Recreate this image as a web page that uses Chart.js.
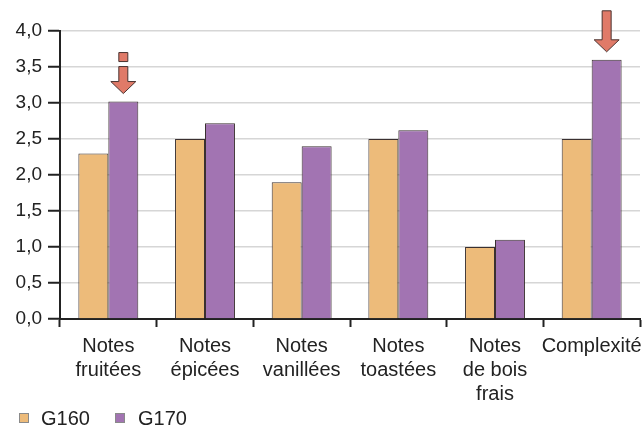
<!DOCTYPE html>
<html>
<head>
<meta charset="utf-8">
<script src="https://cdn.jsdelivr.net/npm/chart.js@4.4.1/dist/chart.umd.min.js"></script>
<style>
  html, body { margin: 0; padding: 0; background: #ffffff; }
  #wrap { position: relative; width: 644px; height: 429px; }
</style>
</head>
<body>
<div id="wrap"><canvas id="c" width="644" height="429"></canvas></div>
<script>
// Sensory profile scores for the two barrel types
const categories = [
  ['Notes', 'fruitées'],
  ['Notes', 'épicées'],
  ['Notes', 'vanillées'],
  ['Notes', 'toastées'],
  ['Notes', 'de bois', 'frais'],
  ['Complexité']
];
const seriesNames = ['G160', 'G170'];
const g160 = [2.3, 2.5, 1.9, 2.5, 1.0, 2.5];
const g170 = [3.02, 2.72, 2.4, 2.62, 1.1, 3.6];
const yTicks = [0, 0.5, 1, 1.5, 2, 2.5, 3, 3.5, 4];
// categories flagged with an arrow above the G170 bar (true = dashed shaft)
const flagged = [0, 5];
const flaggedDashed = [true, false];

const colors = ['#EDBB7A', '#A274B2'];
const FONT = '"Liberation Sans", Arial, Helvetica, sans-serif';

const arrowPlugin = {
  id: 'arrows',
  afterDatasetsDraw(chart) {
    const ctx = chart.ctx;
    const meta = chart.getDatasetMeta(1);
    flagged.forEach((idx, k) => {
      const bar = meta.data[idx];
      const cx = bar.x;
      const tip = bar.y - 8;
      const headH = 12, headW = 12.5, shaftW = 4.5;
      const shaftTop = tip - 41;
      ctx.save();
      ctx.fillStyle = '#E07A68';
      ctx.strokeStyle = '#4a3330';
      ctx.lineWidth = 1;
      ctx.lineJoin = 'miter';
      let sTop = shaftTop;
      if (flaggedDashed[k]) {
        // short detached block on top, then a shorter shaft
        ctx.beginPath();
        ctx.rect(cx - shaftW, shaftTop, shaftW * 2, 9);
        ctx.fill(); ctx.stroke();
        sTop = shaftTop + 14;
      }
      ctx.beginPath();
      ctx.moveTo(cx - shaftW, sTop);
      ctx.lineTo(cx + shaftW, sTop);
      ctx.lineTo(cx + shaftW, tip - headH);
      ctx.lineTo(cx + headW, tip - headH);
      ctx.lineTo(cx, tip);
      ctx.lineTo(cx - headW, tip - headH);
      ctx.lineTo(cx - shaftW, tip - headH);
      ctx.closePath();
      ctx.fill();
      ctx.stroke();
      ctx.restore();
    });
  }
};

const legendPlugin = {
  id: 'bottomLegend',
  afterDraw(chart) {
    const ctx = chart.ctx;
    const items = [{ x: 19, tx: 41 }, { x: 115, tx: 138 }];
    ctx.save();
    ctx.font = '20px ' + FONT;
    ctx.textBaseline = 'middle';
    items.forEach((it, i) => {
      ctx.fillStyle = colors[i];
      ctx.fillRect(it.x, 413, 9, 10);
      ctx.strokeStyle = '#8a8a8a';
      ctx.lineWidth = 1;
      ctx.strokeRect(it.x + 0.5, 413.5, 9, 9);
      ctx.fillStyle = '#222';
      ctx.fillText(chart.data.datasets[i].label, it.tx, 419);
    });
    ctx.restore();
  }
};

new Chart(document.getElementById('c'), {
  type: 'bar',
  data: {
    labels: categories,
    datasets: [
      { label: seriesNames[0], data: g160, backgroundColor: colors[0], borderColor: '#3a3030', borderWidth: 1, borderSkipped: 'bottom' },
      { label: seriesNames[1], data: g170, backgroundColor: colors[1], borderColor: '#3a3030', borderWidth: 1, borderSkipped: 'bottom' }
    ]
  },
  options: {
    responsive: false,
    animation: false,
    devicePixelRatio: 1,
    layout: { padding: { top: 31, right: 4, bottom: 29, left: 0 } },
    datasets: { bar: { categoryPercentage: 0.62, barPercentage: 1.0 } },
    plugins: { legend: { display: false }, tooltip: { enabled: false } },
    scales: {
      x: {
        grid: { display: true, drawOnChartArea: false, offset: true, tickLength: 8, tickColor: '#222', tickWidth: 2 },
        border: { display: true, color: '#222', width: 2 },
        ticks: { color: '#222', font: { family: FONT, size: 20 }, padding: 7, maxRotation: 0, autoSkip: false },
        afterFit(scale) { scale.height = 81; scale.paddingLeft = 0; scale.paddingRight = 0; }
      },
      y: {
        min: 0, max: 4,
        afterBuildTicks(scale) { scale.ticks = yTicks.map(v => ({ value: v })); },
        grid: { color: '#d6d6d6', lineWidth: 1.5, tickLength: 12, tickColor: '#222', tickWidth: 2 },
        border: { display: true, color: '#222', width: 2 },
        ticks: {
          color: '#222', padding: 6, font: { family: FONT, size: 19 },
          callback: v => v.toFixed(1).replace('.', ',')
        },
        afterFit(scale) { scale.width = 60; }
      }
    }
  },
  plugins: [arrowPlugin, legendPlugin]
});
</script>
</body>
</html>
